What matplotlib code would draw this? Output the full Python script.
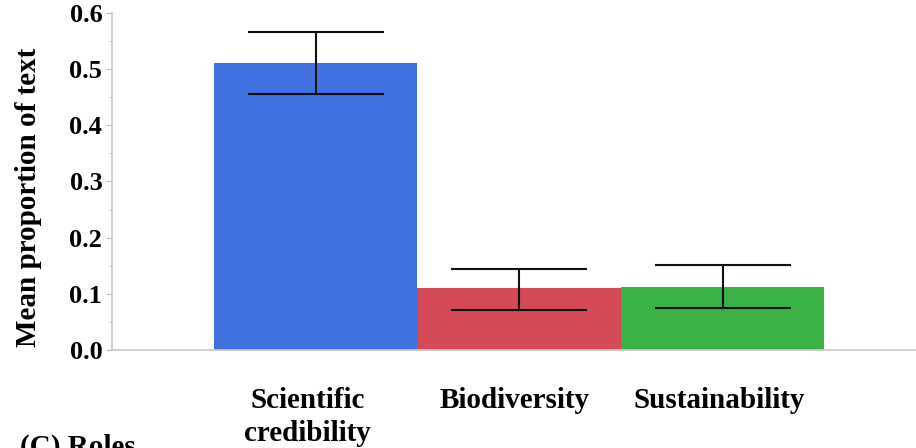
import numpy as np
import matplotlib
matplotlib.use("Agg")
import matplotlib.pyplot as plt
from matplotlib.ticker import MultipleLocator

categories = ["Scientific\ncredibility", "Biodiversity", "Sustainability"]
means = [0.511, 0.110, 0.113]
lower = [0.456, 0.072, 0.074]
upper = [0.566, 0.144, 0.151]
colors = ["#4170E0", "#D44A56", "#3BB143"]

plt.rcParams['font.family'] = ['Liberation Serif', 'DejaVu Serif']
plt.rcParams['font.weight'] = 'bold'

fig = plt.figure(figsize=(9.16, 4.48), dpi=100)
ax = fig.add_axes([0.1223, 0.2188, 0.8777, 0.7522])

x = np.arange(len(categories))
means_a = np.array(means)
yerr = [means_a - np.array(lower), np.array(upper) - means_a]

ax.bar(x, means, width=1.0, color=colors, zorder=2)
ax.errorbar(x, means, yerr=yerr, fmt='none', ecolor='#111111',
            elinewidth=1.5, capsize=49, capthick=1.5, zorder=3)

ax.set_xlim(-1.0, 2.95)
ax.set_ylim(0, 0.6)
ax.yaxis.set_major_locator(MultipleLocator(0.1))
ax.yaxis.set_minor_locator(MultipleLocator(0.05))
ax.set_yticklabels([f"{v:.1f}" for v in ax.get_yticks()])

# category names under the bars, nudged slightly left
ax.set_xticks([])
label_shift = [-0.04, -0.02, -0.015]
for xi, name, dx in zip(x, categories, label_shift):
    ax.text(xi + dx, -0.066, name, transform=ax.transData, ha='center', va='top',
            fontsize=21, fontweight='bold', linespacing=1.3, clip_on=False)

ax.tick_params(axis='y', which='major', length=4, color='#bbbbbb', labelsize=19, pad=3)
ax.tick_params(axis='y', which='minor', length=2, color='#bbbbbb')

for s in ['top', 'right']:
    ax.spines[s].set_visible(False)
for s in ['left', 'bottom']:
    ax.spines[s].set_color('#c8c8c8')
    ax.spines[s].set_linewidth(1.2)

fig.text(0.031, 0.56, "Mean proportion of text", rotation=90,
         ha='center', va='center', fontsize=21, fontweight='bold')
fig.text(0.022, 1 - 434 / 448, "(C) Roles", ha='left', va='top',
         fontsize=21, fontweight='bold')

fig.savefig("out.png", dpi=100)
